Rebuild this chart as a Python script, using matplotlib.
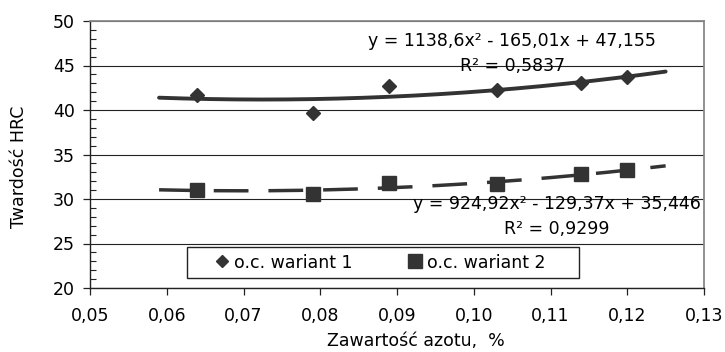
import numpy as np
from matplotlib import pyplot as plt
from matplotlib.lines import Line2D
from matplotlib.patches import Rectangle
from matplotlib.ticker import MultipleLocator, FuncFormatter

## data
azot = [0.064, 0.079, 0.089, 0.103, 0.114, 0.120]
hrc_w1 = [41.7, 39.7, 42.7, 42.3, 43.0, 43.7]
hrc_w2 = [31.0, 30.6, 31.8, 31.7, 32.8, 33.3]
labels = ['o.c. wariant 1', 'o.c. wariant 2']

## trend line coefficients (as printed on the chart)
fit_w1 = [1138.6, -165.01, 47.155]
fit_w2 = [924.92, -129.37, 35.446]
r2_w1 = '0,5837'
r2_w2 = '0,9299'
fit_range = [0.059, 0.125]

## the original is a bit stretched sideways, DejaVu Sans has about the same proportions
plt.rcParams['font.family'] = ['DejaVu Sans']
col = '#333333'
fs = 12.5

fig = plt.figure(figsize=(7.25, 3.52), dpi=100)
ax = fig.add_axes([90/725, 1-288/352, 614/725, 267/352])

## trend lines
xx = np.linspace(fit_range[0], fit_range[1], 200)
ax.plot(xx, np.polyval(fit_w1, xx), color=col, lw=2.8, solid_capstyle='round', zorder=3)
ax.plot(xx, np.polyval(fit_w2, xx), color=col, lw=2.5, dashes=(10, 5.75), zorder=3)

## data points
ax.plot(azot, hrc_w1, linestyle='none', marker='D', ms=7.5, color=col, mec=col, zorder=4)
ax.plot(azot, hrc_w2, linestyle='none', marker='s', ms=10, color=col, mec=col, zorder=4)

## equations
def fmt(v):
    return ('%g' % v).replace('.', ',')

eq1 = 'y = %sx² - %sx + %s\nR² = %s' % (fmt(fit_w1[0]), fmt(-fit_w1[1]), fmt(fit_w1[2]), r2_w1)
eq2 = 'y = %sx² - %sx + %s\nR² = %s' % (fmt(fit_w2[0]), fmt(-fit_w2[1]), fmt(fit_w2[2]), r2_w2)
ax.text(0.105, 46.35, eq1, ha='center', va='center', multialignment='center',
        fontsize=fs, linespacing=1.45, zorder=5)
ax.text(0.1108, 28.03, eq2, ha='center', va='center', multialignment='center',
        fontsize=fs, linespacing=1.55, zorder=5)

## axes formatting
ax.set_xlim(0.05, 0.13)
ax.set_ylim(20, 50)
ax.xaxis.set_major_locator(MultipleLocator(0.01))
ax.yaxis.set_major_locator(MultipleLocator(5))
ax.yaxis.set_minor_locator(MultipleLocator(1))
ax.xaxis.set_major_formatter(FuncFormatter(lambda v, p: ('%.2f' % v).replace('.', ',')))
ax.yaxis.set_major_formatter(FuncFormatter(lambda v, p: '%d' % v))
ax.tick_params(axis='both', which='major', direction='out', length=5, width=0.9,
               labelsize=fs, color='#222222')
ax.tick_params(axis='x', pad=9)
ax.tick_params(axis='y', pad=6)
ax.tick_params(axis='y', which='minor', direction='in', length=4, width=0.8, color='#222222')
ax.grid(axis='y', which='major', color='#222222', lw=0.8)
ax.set_axisbelow(True)
for s in ['left', 'bottom']:
    ax.spines[s].set_color('#222222')
    ax.spines[s].set_linewidth(1.0)
for s in ['top', 'right']:
    ax.spines[s].set_color('#888888')
    ax.spines[s].set_linewidth(1.3)

fig.text(19.5/725, 1-167/352, 'Twardość HRC', rotation=90, ha='center', va='center', fontsize=fs)
fig.text(416/725, 1-341/352, 'Zawartość azotu,  %', ha='center', va='center', fontsize=fs)

## legend: frame drawn as its own box, entries placed inside it
box = Rectangle((0.158, 0.0375), 0.638, 0.116, transform=ax.transAxes,
                facecolor='white', edgecolor='#222222', lw=1.0, zorder=5)
ax.add_patch(box)
handles = [Line2D([], [], linestyle='none', marker='D', ms=6.6, color=col),
           Line2D([], [], linestyle='none', marker='s', ms=10, color=col)]
leg = ax.legend(handles, labels, ncol=2, loc='center left',
                bbox_to_anchor=(0.2036, 0.0955), borderaxespad=0, borderpad=0,
                fontsize=fs, handlelength=0.8, handletextpad=0.3, columnspacing=3.2,
                frameon=False)
leg.set_zorder(6)

fig.savefig('out.png', dpi=100)
